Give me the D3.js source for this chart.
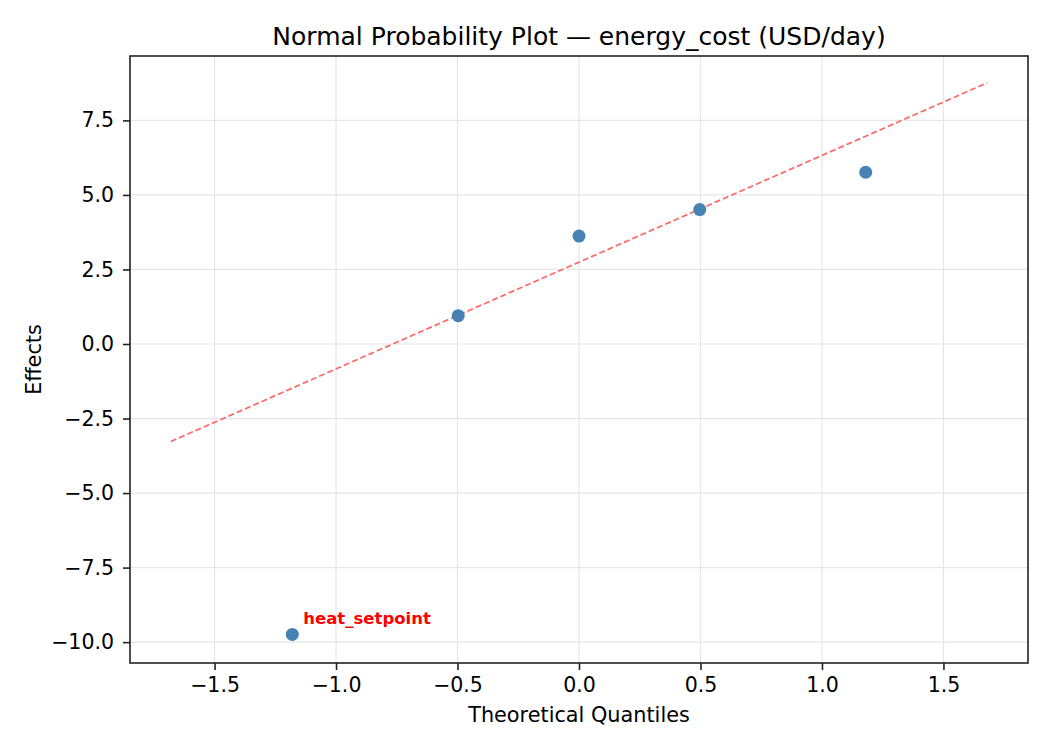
<!DOCTYPE html>
<html><head><meta charset="utf-8">
<script src="https://cdn.jsdelivr.net/npm/d3@7"></script>
<style>body{margin:0;background:#fff}text{font-family:"DejaVu Sans",sans-serif}</style>
</head><body>
<svg id="c" width="1050" height="750"></svg>
<script>
const labels = ["heat_setpoint", "", "", "", ""];
const quantiles = [-1.18, -0.497, 0.0, 0.497, 1.18];
const effects = [-9.74, 0.95, 3.62, 4.51, 5.76];
const refX = [-1.68, 1.68];
const refY = [-3.27, 8.76];
const xTicks = [-1.5, -1.0, -0.5, 0.0, 0.5, 1.0, 1.5];
const yTicks = [-10.0, -7.5, -5.0, -2.5, 0.0, 2.5, 5.0, 7.5];

const L = 130, R = 1028, T = 56, B = 663;
const svg = d3.select("#c");
const x = d3.scaleLinear().domain([-1.848, 1.848]).range([L, R]);
const y = d3.scaleLinear().domain([-10.70, 9.66]).range([B, T]);
const fmt = d => d3.format(".1f")(d).replace("-", "\u2212");

// grid
svg.append("g").selectAll("line").data(xTicks).join("line")
  .attr("x1", d => x(d)).attr("x2", d => x(d)).attr("y1", T).attr("y2", B)
  .attr("stroke", "#e6e6e6").attr("stroke-width", 1.2);
svg.append("g").selectAll("line").data(yTicks).join("line")
  .attr("y1", d => y(d)).attr("y2", d => y(d)).attr("x1", L).attr("x2", R)
  .attr("stroke", "#e6e6e6").attr("stroke-width", 1.2);

// reference line
svg.append("line")
  .attr("x1", x(refX[0])).attr("y1", y(refY[0])).attr("x2", x(refX[1])).attr("y2", y(refY[1]))
  .attr("stroke", "#ff6666").attr("stroke-width", 1.7).attr("stroke-dasharray", "6,3");

// points
const pts = quantiles.map((q, i) => ({q, e: effects[i], l: labels[i]}));
svg.append("g").selectAll("circle").data(pts).join("circle")
  .attr("cx", d => x(d.q)).attr("cy", d => y(d.e)).attr("r", 6.5).attr("fill", "#4682b4");
svg.append("g").selectAll("text").data(pts.filter(d => d.l)).join("text")
  .attr("x", d => x(d.q) + 11).attr("y", d => y(d.e) - 10)
  .attr("font-size", 16.5).attr("font-weight", "bold").attr("fill", "red").text(d => d.l);

// axes
const xa = svg.append("g").attr("transform", `translate(0,${B})`)
  .call(d3.axisBottom(x).tickValues(xTicks).tickFormat(fmt).tickSize(7).tickPadding(7));
const ya = svg.append("g").attr("transform", `translate(${L},0)`)
  .call(d3.axisLeft(y).tickValues(yTicks).tickFormat(fmt).tickSize(7).tickPadding(9));
[xa, ya].forEach(a => {
  a.select(".domain").remove();
  a.selectAll("text").attr("font-size", 20.5).attr("fill", "#000").style("font-family", "DejaVu Sans");
  a.selectAll("line").attr("stroke", "#222").attr("stroke-width", 1.6);
});
svg.append("rect").attr("x", L).attr("y", T).attr("width", R - L).attr("height", B - T)
  .attr("fill", "none").attr("stroke", "#222").attr("stroke-width", 1.6);

svg.append("text").attr("x", (L + R) / 2).attr("y", 45).attr("text-anchor", "middle")
  .attr("font-size", 25).text("Normal Probability Plot \u2014 energy_cost (USD/day)");
svg.append("text").attr("x", (L + R) / 2).attr("y", 722).attr("text-anchor", "middle")
  .attr("font-size", 20.8).text("Theoretical Quantiles");
svg.append("text").attr("transform", `translate(41,${(T + B) / 2}) rotate(-90)`).attr("text-anchor", "middle")
  .attr("font-size", 20.8).text("Effects");
</script>
</body></html>
